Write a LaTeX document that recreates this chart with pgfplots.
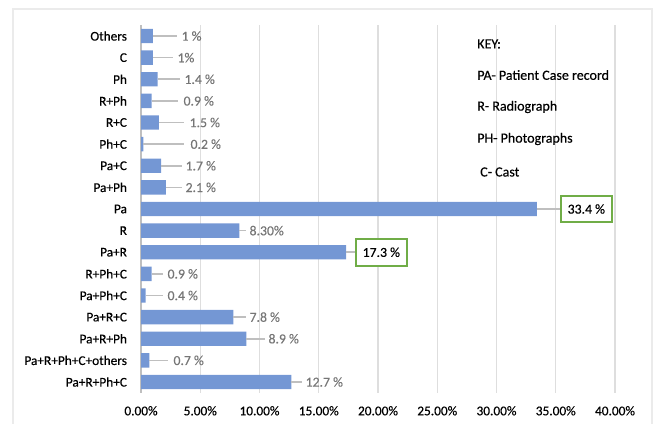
\documentclass[border=0pt]{standalone}
\usepackage{pgfplots}
\pgfplotsset{compat=1.18}
\usepackage{pgfplotstable}
\usepackage{fontspec}
\setmainfont{Carlito}[FakeBold=0.35]
\definecolor{barblue}{RGB}{116,151,212}
\definecolor{leadgray}{RGB}{191,191,191}
\definecolor{labgray}{RGB}{118,118,118}
\definecolor{gridgray}{RGB}{222,222,222}
\definecolor{framegray}{RGB}{235,235,235}
\definecolor{boxgreen}{RGB}{112,173,71}

% y = row index (0 = top), val = percentage, lab = x where the label starts, lead = end of leader line
\pgfplotstableread[col sep=comma]{
y,val,lab,lead,txt
0,1.0,3.29,3.05,1 \%
1,1.0,2.95,2.70,1\%
2,1.4,3.54,3.25,1.4 \%
3,0.9,3.46,3.15,0.9 \%
4,1.5,3.97,3.60,1.5 \%
5,0.2,4.05,3.60,0.2 \%
6,1.7,3.63,3.45,1.7 \%
7,2.1,3.63,3.45,2.1 \%
9,8.3,9.03,8.85,8.30\%
11,0.9,2.11,1.85,0.9 \%
12,0.4,2.11,1.85,0.4 \%
13,7.8,9.03,8.85,7.8 \%
14,8.9,10.63,10.45,8.9 \%
15,0.7,2.61,2.30,0.7 \%
16,12.7,13.76,13.60,12.7 \%
}\smalltable

\pgfplotstableread[col sep=comma]{
y,val,lab,lead,txt
8,33.4,35.36,35.36,33.4 \%
10,17.3,18.06,18.06,17.3 \%
}\bigtable

\begin{document}
\begin{tikzpicture}
\path[use as bounding box] (0,0) rectangle (492pt,318pt);
\draw[framegray, line width=0.8pt] (9.75pt,-1pt) -- (9.75pt,311.25pt) -- (489pt,311.25pt) -- (489pt,-1pt);
\begin{axis}[
  at={(105.75pt,23.4pt)}, anchor=south west,
  scale only axis,
  width=355.5pt, height=275.7pt,
  xmin=0, xmax=40,
  ymin=-0.5, ymax=16.5,
  y dir=reverse,
  axis lines=left,
  axis line style={-},
  x axis line style={draw=none},
  y axis line style={draw=leadgray, line width=0.8pt},
  major tick length=0pt,
  xtick={0,5,...,40},
  xticklabels={0.00\%,5.00\%,10.00\%,15.00\%,20.00\%,25.00\%,30.00\%,35.00\%,40.00\%},
  ytick={0,...,16},
  yticklabels={Others,C,Ph,R+Ph,R+C,Ph+C,Pa+C,Pa+Ph,Pa,R,Pa+R,R+Ph+C,Pa+Ph+C,Pa+R+C,Pa+R+Ph,Pa+R+Ph+C+others,Pa+R+Ph+C},
  xmajorgrids,
  major grid style={draw=gridgray, line width=0.8pt},
  every tick label/.append style={font=\fontsize{10}{12}\selectfont, text=black},
  xticklabel style={yshift=-6.5pt},
  yticklabel style={xshift=-7pt},
  clip=false,
]
\addplot[xbar, bar width=0.66, fill=barblue, draw=none] table[x=val, y=y] {\smalltable};
\addplot[xbar, bar width=0.66, fill=barblue, draw=none] table[x=val, y=y] {\bigtable};
% leader lines
\addplot[draw=none, error bars/.cd, x dir=plus, x explicit, error mark=none,
  error bar style={draw=leadgray, line width=1.2pt}]
  table[x=val, y=y, x error expr=\thisrow{lead}-\thisrow{val}] {\smalltable};
\addplot[draw=none, error bars/.cd, x dir=plus, x explicit, error mark=none,
  error bar style={draw=leadgray, line width=1.2pt}]
  table[x=val, y=y, x error expr=\thisrow{lead}-\thisrow{val}] {\bigtable};
% labels
\addplot[draw=none, nodes near coords, point meta=explicit symbolic,
  nodes near coords style={anchor=west, inner sep=1pt, text=labgray, font=\fontsize{10.3}{12}\selectfont}]
  table[x=lab, y=y, meta=txt] {\smalltable};
\addplot[draw=none, nodes near coords, point meta=explicit symbolic,
  nodes near coords style={anchor=west, draw=boxgreen, line width=1.5pt, fill=white, text=black,
    inner xsep=5pt, minimum height=20pt, font=\fontsize{10.3}{12}\selectfont}]
  table[x=lab, y=y, meta=txt] {\bigtable};
\end{axis}
\begin{scope}[font=\fontsize{10.5}{12}\selectfont]
\node[anchor=west, inner sep=0] at (357.75pt,285pt) {KEY:};
\node[anchor=west, inner sep=0] at (357.75pt,261.75pt) {PA- Patient Case record};
\node[anchor=west, inner sep=0] at (357.75pt,237.75pt) {R- Radiograph};
\node[anchor=west, inner sep=0] at (357.75pt,213.75pt) {PH- Photographs};
\node[anchor=west, inner sep=0] at (360pt,189pt) {C- Cast};
\end{scope}
\end{tikzpicture}
\end{document}
